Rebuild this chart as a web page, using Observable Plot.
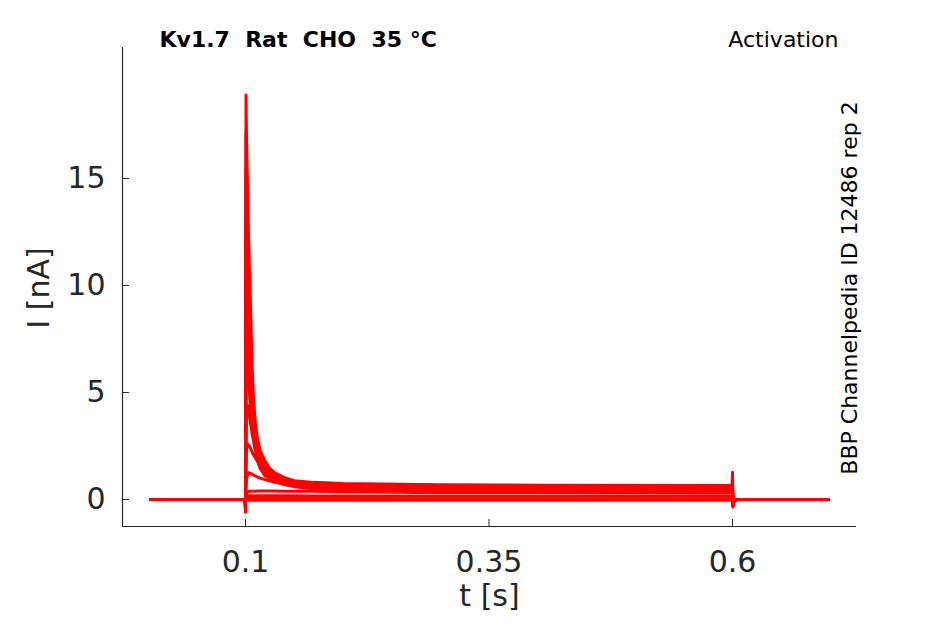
<!DOCTYPE html>
<html><head><meta charset="utf-8">
<script src="https://cdn.jsdelivr.net/npm/d3@7"></script>
<script src="https://cdn.jsdelivr.net/npm/@observablehq/plot@0.6"></script>
<style>body{margin:0;background:#fff}svg text{white-space:pre}</style>
</head><body><div id="chart"></div>
<script>
// time points (s)
const timeS = [0.0025, 0.0995, 0.1, 0.1005, 0.101, 0.102, 0.103, 0.104, 0.105, 0.106, 0.107, 0.108, 0.110, 0.112, 0.115, 0.120, 0.125, 0.130, 0.140, 0.150, 0.170, 0.200, 0.300, 0.400, 0.5995, 0.6, 0.6004, 0.601, 0.605, 0.6987];
// current traces (nA), one per voltage step
const trace01 = [0, 0, -0.6, 18.9, 17.0, 14.8, 12.5, 10.8, 9.3, 7.4, 5.9, 4.9, 3.6, 2.9, 2.3, 1.8, 1.45, 1.25, 1.02, 0.88, 0.80, 0.75, 0.69, 0.67, 0.65, 1.27, -0.36, -0.1, 0, 0];
const trace02 = [0, 0, -0.5, 17.2, 15.5, 13.4, 11.3, 9.7, 8.2, 6.6, 5.4, 4.5, 3.3, 2.7, 2.15, 1.68, 1.37, 1.15, 0.96, 0.84, 0.76, 0.71, 0.65, 0.63, 0.61, 0.61, -0.3, -0.1, 0, 0];
const trace03 = [0, 0, -0.5, 15.5, 14.0, 12.0, 10.1, 8.6, 7.3, 6.0, 4.9, 4.1, 3.1, 2.5, 2.0, 1.58, 1.30, 1.08, 0.91, 0.80, 0.71, 0.66, 0.61, 0.59, 0.57, 0.57, -0.3, -0.1, 0, 0];
const trace04 = [0, 0, -0.4, 13.5, 12.2, 10.5, 8.9, 7.6, 6.5, 5.4, 4.5, 3.8, 2.9, 2.35, 1.88, 1.48, 1.22, 1.02, 0.86, 0.75, 0.66, 0.61, 0.56, 0.55, 0.53, 0.53, -0.3, -0.1, 0, 0];
const trace05 = [0, 0, -0.4, 11.5, 10.6, 9.2, 7.8, 6.7, 5.8, 4.9, 4.1, 3.5, 2.7, 2.2, 1.75, 1.38, 1.15, 0.97, 0.81, 0.70, 0.61, 0.56, 0.51, 0.50, 0.49, 0.49, -0.3, -0.1, 0, 0];
const trace06 = [0, 0, -0.3, 9.5, 9.0, 7.9, 6.8, 5.9, 5.1, 4.4, 3.7, 3.2, 2.5, 2.0, 1.6, 1.25, 1.07, 0.92, 0.76, 0.66, 0.56, 0.50, 0.46, 0.45, 0.44, 0.44, -0.25, -0.1, 0, 0];
const trace07 = [0, 0, -0.3, 7.5, 7.2, 6.4, 5.7, 5.0, 4.4, 3.8, 3.3, 2.9, 2.3, 1.85, 1.45, 1.1, 0.98, 0.86, 0.70, 0.60, 0.50, 0.44, 0.41, 0.40, 0.40, 0.40, -0.25, -0.1, 0, 0];
const trace08 = [0, 0, -0.2, 2.5, 4.0, 4.4, 4.2, 3.9, 3.6, 3.3, 3.0, 2.8, 2.4, 2.1, 1.7, 1.3, 1.08, 0.93, 0.76, 0.65, 0.52, 0.45, 0.38, 0.37, 0.36, 0.36, -0.2, -0.05, 0, 0];
const trace09 = [0, 0, -0.2, 1.5, 2.3, 2.6, 2.55, 2.5, 2.4, 2.3, 2.2, 2.1, 1.95, 1.8, 1.6, 1.35, 1.15, 1.0, 0.80, 0.68, 0.55, 0.46, 0.37, 0.35, 0.34, 0.34, -0.2, -0.05, 0, 0];
const trace10 = [0, 0, -0.1, 0.6, 0.95, 1.15, 1.25, 1.25, 1.22, 1.2, 1.18, 1.15, 1.1, 1.06, 1.0, 0.93, 0.87, 0.80, 0.72, 0.63, 0.53, 0.45, 0.36, 0.34, 0.32, 0.32, -0.15, -0.05, 0, 0];
const trace11 = [0, 0, -0.1, 0.2, 0.3, 0.35, 0.37, 0.37, 0.38, 0.38, 0.38, 0.39, 0.39, 0.40, 0.40, 0.40, 0.40, 0.40, 0.39, 0.39, 0.38, 0.36, 0.32, 0.31, 0.30, 0.30, -0.1, -0.05, 0, 0];
const trace12 = [0, 0, -0.05, 0.1, 0.16, 0.18, 0.18, 0.18, 0.18, 0.18, 0.18, 0.18, 0.18, 0.18, 0.18, 0.18, 0.18, 0.18, 0.18, 0.17, 0.16, 0.16, 0.15, 0.15, 0.15, 0.15, -0.05, 0, 0, 0];
const trace13 = [0, 0, 0, 0.03, 0.05, 0.05, 0.05, 0.05, 0.05, 0.05, 0.05, 0.05, 0.05, 0.05, 0.05, 0.05, 0.05, 0.05, 0.05, 0.05, 0.05, 0.05, 0.03, 0.03, 0.03, 0.03, 0, 0, 0, 0];
const trace14 = [0, 0, 0, -0.03, -0.03, -0.03, -0.03, -0.03, -0.03, -0.03, -0.03, -0.03, -0.03, -0.03, -0.03, -0.03, -0.03, -0.03, -0.03, -0.03, -0.03, -0.03, -0.03, -0.03, -0.03, -0.03, 0, 0, 0, 0];
const traces = [trace01, trace02, trace03, trace04, trace05, trace06, trace07, trace08, trace09, trace10, trace11, trace12, trace13, trace14];

const xTicks = [0.1, 0.35, 0.6];
const yTicks = [0, 5, 10, 15];
const xDomain = [-0.0263, 0.7273];
const yDomain = [-1.262, 21.12];
const titleText = "Kv1.7  Rat  CHO  35 °C";
const protocolText = "Activation";
const sourceText = "BBP Channelpedia ID 12486 rep 2";
const xLabel = "t [s]";
const yLabel = "I [nA]";

const rows = traces.flatMap((vals, k) => vals.map((v, i) => ({t: timeS[i], I: v, trace: k})));

const axisColor = "#262626";
const plot = Plot.plot({
  width: 945, height: 624,
  marginLeft: 122, marginRight: 89, marginTop: 47, marginBottom: 98,
  style: {fontFamily: "DejaVu Sans", background: "white", overflow: "visible"},
  x: {domain: xDomain},
  y: {domain: yDomain},
  marks: [
    Plot.line(rows, {x: "t", y: "I", z: "trace", stroke: "#ff0000", strokeWidth: 3, strokeLinejoin: "round"}),
    Plot.ruleX([xDomain[0]], {stroke: axisColor, strokeWidth: 1.2}),
    Plot.ruleY([yDomain[0]], {stroke: axisColor, strokeWidth: 1.2}),
    Plot.axisY(yTicks, {tickSize: 7, dx: 7, tickPadding: 17, fontSize: 30, color: axisColor, label: null, tickFormat: d => String(d)}),
    Plot.axisX(xTicks, {tickSize: 7, dy: -7, tickPadding: 24, fontSize: 30, color: axisColor, label: null, tickFormat: d => String(d)}),
    Plot.text([titleText], {text: d => d, frameAnchor: "top-left", dx: 37, dy: -1, textAnchor: "start", lineAnchor: "bottom", fontSize: 22, fontWeight: "bold", fill: "#000"}),
    Plot.text([protocolText], {text: d => d, frameAnchor: "top-right", dx: -18, dy: -1, textAnchor: "end", lineAnchor: "bottom", fontSize: 22, fill: "#000"}),
    Plot.text([sourceText], {text: d => d, frameAnchor: "right", dy: 1, rotate: -90, textAnchor: "middle", lineAnchor: "bottom", fontSize: 22, fill: "#000"}),
    Plot.text([yLabel], {text: d => d, frameAnchor: "left", dx: -74, dy: 1, rotate: -90, textAnchor: "middle", lineAnchor: "bottom", fontSize: 30, fill: axisColor}),
    Plot.text([xLabel], {text: d => d, frameAnchor: "bottom", dy: 79, textAnchor: "middle", lineAnchor: "bottom", fontSize: 30, fill: axisColor})
  ]
});
document.getElementById("chart").appendChild(plot);
</script>
</body></html>
